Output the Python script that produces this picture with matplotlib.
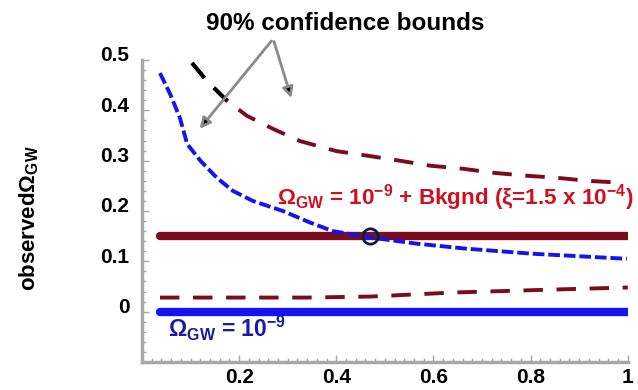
import numpy as np
import matplotlib
matplotlib.use("Agg")
import matplotlib.pyplot as plt
import matplotlib.transforms as mtransforms
from matplotlib.ticker import MultipleLocator

plt.rcParams['font.family'] = ['Liberation Sans', 'DejaVu Sans']
plt.rcParams['font.weight'] = 'bold'
plt.rcParams['mathtext.fontset'] = 'custom'
plt.rcParams['mathtext.rm'] = 'Liberation Sans:bold'
plt.rcParams['mathtext.it'] = 'Liberation Sans:bold'

# observed Omega_GW for the GW-only case, vs. fraction
blue_x = [0.037, 0.058, 0.078, 0.093, 0.12, 0.154, 0.187, 0.228, 0.29, 0.346,
          0.393, 0.473, 0.566, 0.669, 0.805, 0.998]
blue_y = [0.474, 0.432, 0.385, 0.333, 0.30, 0.266, 0.24, 0.22, 0.20, 0.177,
          0.16, 0.147, 0.135, 0.125, 0.115, 0.105]

# 90% confidence bounds
upper_x = [0.103, 0.134, 0.175, 0.216, 0.27, 0.325, 0.40, 0.463, 0.53, 0.593,
           0.66, 0.722, 0.792, 0.854, 0.916, 0.99]
upper_y = [0.494, 0.458, 0.419, 0.389, 0.363, 0.339, 0.319, 0.31, 0.30, 0.29,
           0.284, 0.276, 0.27, 0.266, 0.26, 0.256]
lower_x = [0.037, 0.34, 0.47, 0.64, 0.85, 1.0]
lower_y = [0.028, 0.028, 0.03, 0.038, 0.044, 0.048]

# true levels
x_range = [0.037, 1.0]
gw_only = 0.0
gw_bkgnd = 0.15
cross_x, cross_y = 0.47, 0.15

maroon = '#7a0c1c'
blue = '#1414f0'

fig = plt.figure(figsize=(6.38, 3.90), dpi=100)
ax = fig.add_axes([0.2226, 0.0718, 0.7614, 0.7744])

ax.plot(x_range, [gw_only, gw_only], color=blue, lw=6, solid_capstyle='round')
ax.plot(x_range, [gw_bkgnd, gw_bkgnd], color=maroon, lw=6, solid_capstyle='round')
ax.plot(blue_x, blue_y, color=blue, lw=2.8, ls=(0, (3, 1)))
ax.plot(upper_x, upper_y, color=maroon, lw=2.8, ls=(0, (5, 3.5)))
ax.plot(upper_x[:3], upper_y[:3], color='black', lw=2.8, ls=(0, (5, 3.5)))
ax.plot(lower_x, lower_y, color=maroon, lw=2.8, ls=(0, (5, 3.5)))
ax.plot([cross_x], [cross_y], 'o', ms=11, mfc='none', mec='#101840', mew=2)

ax.text(0.278, 0.226,
        r'$\Omega_{GW}$ = 10$^{-9}$ + Bkgnd ($\xi$=1.5 x 10$^{-4}$)',
        color='#d01020', fontsize=16.2, va='center', ha='left')
ax.text(0.053, -0.034, r'$\Omega_{GW}$ = 10$^{-9}$', color='#1a1aa8',
        fontsize=16.5, va='center', ha='left')

arrow = dict(arrowstyle='-|>', fc='black', ec='#8a8a8a', lw=2,
             mutation_scale=16)
ax.annotate('', xy=(0.115, 0.359), xytext=(0.27, 0.542),
            arrowprops=arrow, annotation_clip=False)
ax.annotate('', xy=(0.309, 0.419), xytext=(0.27, 0.542),
            arrowprops=arrow, annotation_clip=False)
ax.text(0.418, 0.573, '90% confidence bounds', fontsize=17.5, ha='center',
        va='center', clip_on=False)

ax.set_xlim(0, 1)
ax.set_ylim(-0.1, 0.5)
ax.xaxis.set_minor_locator(MultipleLocator(0.02))
ax.yaxis.set_minor_locator(MultipleLocator(0.02))
ax.set_xticks([0.2, 0.4, 0.6, 0.8, 1.0])
ax.set_xticklabels(['0.2', '0.4', '0.6', '0.8', '1'])
ax.set_yticks([0, 0.1, 0.2, 0.3, 0.4, 0.5])
ax.set_yticklabels(['0', '0.1', '0.2', '0.3', '0.4', '0.5'])

for side in ['top', 'right']:
    ax.spines[side].set_visible(False)
for side in ['left', 'bottom']:
    ax.spines[side].set_color('#a8a8a8')
    ax.spines[side].set_linewidth(2.5)
ax.tick_params(which='both', direction='in', color='#a8a8a8', width=1)
ax.tick_params(which='major', length=5, labelsize=15)
ax.tick_params(axis='y', which='major', pad=9)
ax.tick_params(axis='x', which='major', pad=4)
ax.tick_params(which='minor', length=3)

# y tick labels sit a little above their ticks
shift = mtransforms.ScaledTranslation(0, 6 / 100, fig.dpi_scale_trans)
for lab in ax.get_yticklabels():
    lab.set_transform(lab.get_transform() + shift)

fig.text(0.046, 0.44, r'observed$\Omega_{GW}$', rotation=90, fontsize=16,
         ha='center', va='center')

fig.savefig('out.png', dpi=100)
